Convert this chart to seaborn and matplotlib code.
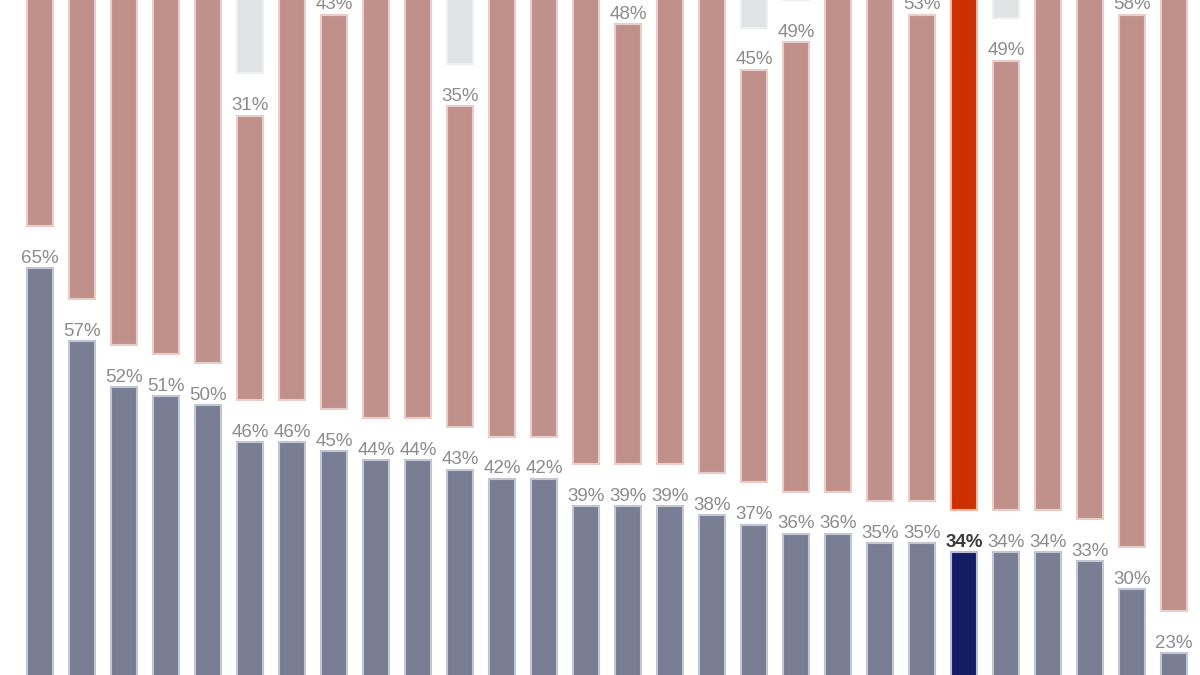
import matplotlib
matplotlib.use("Agg")
import matplotlib.pyplot as plt
import seaborn as sns
import numpy as np

# ---- data (top of many pink bars is cropped, values estimated) ----
categories = [f"C{i}" for i in range(1, 23)] + ["EU28"] + [f"C{i}" for i in range(23, 28)]
trust = [65, 57, 52, 51, 50, 46, 46, 45, 44, 44, 43, 42, 42, 39, 39, 39, 38, 37,
         36, 36, 35, 35, 34, 34, 34, 33, 30, 23]
distrust = [29, 38, 42, 43, 44, 31, 46, 43, 50, 50, 35, 52, 53, 56, 48, 55, 57, 45,
            49, 58, 60, 53, 57, 49, 60, 61, 58, 72]
dont_know = [100 - t - d for t, d in zip(trust, distrust)]
highlight = "EU28"

# ---- style ----
GAP = 4.6  # visual spacing between stacked segments (percentage units)
C_TRUST, E_TRUST = "#7a7e94", "#c3c5d3"
C_DIST, E_DIST = "#c0918a", "#e9cdc8"
C_DK, E_DK = "#e2e3e4", "#eeefef"
C_TRUST_H, C_DIST_H = "#141c63", "#cc3000"

sns.set_theme(style="white")
plt.rcParams["font.family"] = ["Liberation Sans", "DejaVu Sans"]

fig = plt.figure(figsize=(12, 6.75), dpi=100)
ax = fig.add_axes([0, 0, 1, 1])

t = np.array(trust, float)
d = np.array(distrust, float)
k = np.array(dont_know, float)
b_dist = t + GAP
b_dk = t + GAP + d + GAP

W, LW = 0.635, 1.5
sns.barplot(x=categories, y=t, color=C_TRUST, edgecolor=E_TRUST, linewidth=LW,
            width=W, saturation=1, ax=ax, order=categories)
n1 = len(ax.patches)
sns.barplot(x=categories, y=d, bottom=b_dist, color=C_DIST, edgecolor=E_DIST,
            linewidth=LW, width=W, saturation=1, ax=ax, order=categories)
n2 = len(ax.patches)
sns.barplot(x=categories, y=k, bottom=b_dk, color=C_DK, edgecolor=E_DK,
            linewidth=LW, width=W, saturation=1, ax=ax, order=categories)

hi = categories.index(highlight)
ax.patches[hi].set_facecolor(C_TRUST_H)
ax.patches[hi].set_edgecolor("#b9bdd6")
ax.patches[n1 + hi].set_facecolor(C_DIST_H)
ax.patches[n1 + hi].set_edgecolor("#f0b8a4")

# value labels
def label(i, top, val):
    bold = categories[i] == highlight
    ax.annotate(f"{val:.0f}%", (i, top), xytext=(0, 3.8), textcoords="offset points",
                ha="center", va="baseline", fontsize=13.5,
                color="#3a3a3a" if bold else "#8c8c8c",
                fontweight="bold" if bold else "normal", annotation_clip=True)

for i in range(len(categories)):
    label(i, t[i], t[i])
    label(i, b_dist[i] + d[i], d[i])
    label(i, b_dk[i] + k[i], k[i])

ax.set_xlim(-40 / 42, 1160 / 42)
ax.set_ylim(20.6, 94.2)
ax.axis("off")

fig.savefig("out.png", dpi=100, facecolor="white")
